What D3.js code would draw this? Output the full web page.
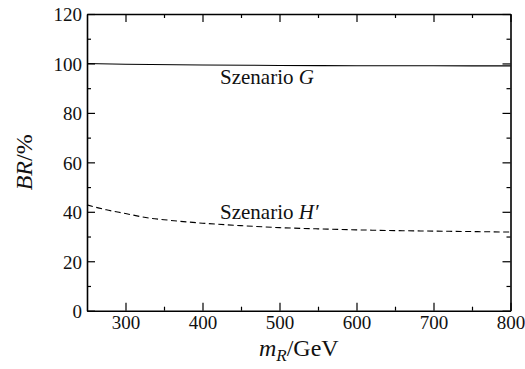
<!DOCTYPE html>
<html><head><meta charset="utf-8">
<script src="https://cdn.jsdelivr.net/npm/d3@7"></script>
<style>
@font-face { font-family: "ChartSerif"; src: local("Liberation Serif"), local("LiberationSerif"), local("Times New Roman"); font-style: normal; }
@font-face { font-family: "ChartSerif"; src: local("Liberation Serif Italic"), local("LiberationSerif-Italic"), local("Times New Roman Italic"); font-style: italic; }
svg text, svg tspan { font-family: "Liberation Serif", "Times New Roman", "ChartSerif", serif !important; }
</style>
</head><body style="margin:0"><svg id="c" width="525" height="369"></svg>
<script>
const massG = [250, 300, 400, 500, 600, 700, 800];
const brG = [100, 99.7, 99.4, 99.2, 99.1, 99.05, 99.0];
const massH = [250, 275, 300, 330, 350, 400, 450, 500, 550, 600, 650, 700, 750, 800];
const brH = [42.8, 40.8, 39.3, 37.5, 36.8, 35.4, 34.4, 33.6, 33.1, 32.7, 32.4, 32.2, 32.0, 31.8];
const xMajor = [300, 400, 500, 600, 700, 800];
const xMinor = [350, 450, 550, 650, 750];
const yMajor = [0, 20, 40, 60, 80, 100, 120];
const yMinor = [10, 30, 50, 70, 90, 110];

const FONT = "'Liberation Serif'";
const svg = d3.select("#c");
const L = 87, R = 510.5, T = 14, B = 310.7;
const x = d3.scaleLinear().domain([250, 800]).range([L, R]);
const y = d3.scaleLinear().domain([0, 120]).range([B, T]);

const g = svg.append("g");
const line = d3.line().curve(d3.curveMonotoneX);
g.append("path").attr("d", line(massG.map((m, i) => [x(m), y(brG[i])])))
  .attr("fill", "none").attr("stroke", "#000").attr("stroke-width", 1.1);
g.append("path").attr("d", line(massH.map((m, i) => [x(m), y(brH[i])])))
  .attr("fill", "none").attr("stroke", "#000").attr("stroke-width", 1.1).attr("stroke-dasharray", "6,3.5");

function ax(axisFn, scale, major, minor, transform, labels) {
  const a = g.append("g").attr("transform", transform)
    .call(axisFn(scale).tickValues(major).tickSizeInner(-8).tickSizeOuter(0).tickPadding(labels ? 5 : 0).tickFormat(labels ? d3.format("d") : ""));
  a.attr("font-family", FONT).attr("font-size", 19);
  a.select(".domain").attr("stroke", "#000").attr("stroke-width", 1.6);
  a.selectAll(".tick line").attr("stroke", "#000").attr("stroke-width", 1.2);
  a.selectAll("text").attr("font-family", FONT).attr("font-size", 19).attr("fill", "#111");
  g.append("g").attr("transform", transform)
    .call(axisFn(scale).tickValues(minor).tickSizeInner(-4).tickSizeOuter(0).tickFormat(""))
    .call(s => { s.select(".domain").remove(); s.selectAll(".tick line").attr("stroke", "#000").attr("stroke-width", 1.2); });
  return a;
}
ax(d3.axisBottom, x, xMajor, xMinor, `translate(0,${B})`, true);
ax(d3.axisTop, x, xMajor, xMinor, `translate(0,${T})`, false);
const ly = ax(d3.axisLeft, y, yMajor, yMinor, `translate(${L},0)`, true);
ly.selectAll("text").attr("dy", "0.36em");
ax(d3.axisRight, y, yMajor, yMinor, `translate(${R},0)`, false);

function txt(sel) { return sel.attr("font-family", FONT).attr("fill", "#111"); }

const xl = txt(svg.append("text")).attr("x", (L + R) / 2).attr("y", 356).attr("text-anchor", "middle").attr("font-size", 24);
xl.append("tspan").attr("font-style", "italic").text("m");
xl.append("tspan").attr("font-style", "italic").attr("dy", 5).attr("font-size", 17).text("R");
xl.append("tspan").attr("dy", -5).text("/GeV");

const yl = txt(svg.append("text")).attr("transform", `translate(32,${(T + B) / 2}) rotate(-90)`).attr("text-anchor", "middle").attr("font-size", 24);
yl.append("tspan").attr("font-style", "italic").text("BR");
yl.append("tspan").text("/%");

const a1 = txt(svg.append("text")).attr("x", 220).attr("y", 83.5).attr("font-size", 21);
a1.append("tspan").text("Szenario ");
a1.append("tspan").attr("font-style", "italic").text("G");
const a2 = txt(svg.append("text")).attr("x", 220).attr("y", 218.5).attr("font-size", 21);
a2.append("tspan").text("Szenario ");
a2.append("tspan").attr("font-style", "italic").text("H′");
svg.selectAll("text, tspan").each(function () { this.style.setProperty("font-family", "'Liberation Serif', 'Times New Roman', ChartSerif, serif", "important"); });
</script></body></html>
